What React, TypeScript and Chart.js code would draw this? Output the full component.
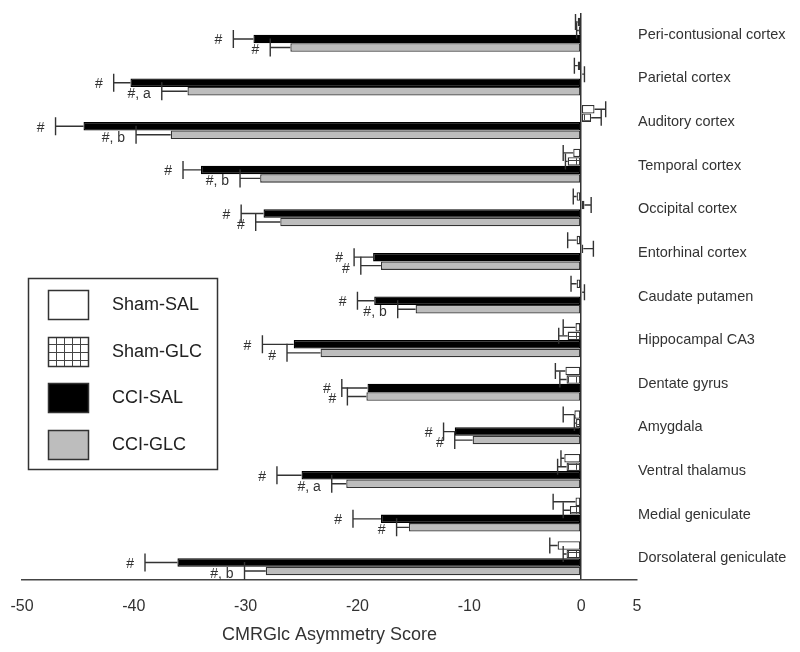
import React, { useEffect, useRef } from "react";
import { Chart, registerables } from "chart.js";
Chart.register(...registerables);

const regions = [
  "Peri-contusional cortex",
  "Parietal cortex",
  "Auditory cortex",
  "Temporal cortex",
  "Occipital cortex",
  "Entorhinal cortex",
  "Caudate putamen",
  "Hippocampal CA3",
  "Dentate gyrus",
  "Amygdala",
  "Ventral thalamus",
  "Medial geniculate",
  "Dorsolateral geniculate",
];
const seriesNames = ["Sham-SAL", "Sham-GLC", "CCI-SAL", "CCI-GLC"];

const shamSal = [-0.3, -0.3, 1.2, -0.7, -0.4, -0.4, -0.4, -0.5, -1.4, -0.6, -1.5, -0.5, -2.1];
const shamSalSem = [0.2, 0.3, 1.0, 0.9, 0.3, 0.8, 0.5, 1.1, 0.9, 1.0, 0.3, 2.0, 0.7];
const shamGlc = [-0.2, 0.1, 0.9, -1.2, 0.3, 0.2, 0.1, -1.2, -1.3, -0.45, -1.3, -1.0, -1.3];
const shamGlcSem = [0.2, 0.2, 0.9, 0.2, 0.6, 0.9, 0.2, 0.8, 0.6, 0.15, 0.8, 0.6, 0.3];
const cciSal = [-29.3, -40.3, -44.5, -34.0, -28.4, -18.6, -18.5, -25.7, -19.1, -11.3, -25.0, -17.9, -36.1];
const cciSalSem = [1.8, 1.5, 2.5, 1.6, 2.0, 1.7, 1.5, 2.8, 2.3, 1.0, 2.2, 2.5, 2.9];
const cciGlc = [-26.0, -35.2, -36.7, -28.7, -26.9, -17.9, -14.8, -23.3, -19.2, -9.7, -21.0, -15.4, -28.2];
const cciGlcSem = [1.8, 2.3, 3.1, 1.8, 2.2, 1.8, 1.6, 3.0, 1.7, 1.6, 1.3, 1.1, 1.9];

const shamSalMarks = ["", "", "", "", "", "", "", "", "", "", "", "", ""];
const shamGlcMarks = ["", "", "", "", "", "", "", "", "", "", "", "", ""];
const cciSalMarks = ["#", "#", "#", "#", "#", "#", "#", "#", "#", "#", "#", "#", "#"];
const cciGlcMarks = ["#", "#, a", "#, b", "#, b", "#", "#", "#, b", "#", "#", "#", "#, a", "#", "#, b"];

const xTicks = [-50, -40, -30, -20, -10, 0, 5];
const axisTitle = "CMRGlc Asymmetry Score";

const FONT = '"Liberation Sans", Arial, Helvetica, sans-serif';

export default function App() {
  const ref = useRef<HTMLCanvasElement>(null);

  useEffect(() => {
    document.body.style.margin = "0";
    const canvas = ref.current!;
    const ctx = canvas.getContext("2d")!;

    const pc = document.createElement("canvas");
    pc.width = 8;
    pc.height = 8;
    const p = pc.getContext("2d")!;
    p.fillStyle = "#ffffff";
    p.fillRect(0, 0, 8, 8);
    p.fillStyle = "#444444";
    p.fillRect(0, 0, 8, 1);
    p.fillRect(0, 0, 1, 8);
    const gridPattern = ctx.createPattern(pc, "repeat")!;

    const values = [shamSal, shamGlc, cciSal, cciGlc];
    const sems = [shamSalSem, shamGlcSem, cciSalSem, cciGlcSem];
    const marks = [shamSalMarks, shamGlcMarks, cciSalMarks, cciGlcMarks];
    const fills: any[] = ["#ffffff", gridPattern, "#000000", "#bdbdbd"];

    const errorPlugin = {
      id: "errorBars",
      afterDatasetsDraw(chart: any) {
        const c = chart.ctx;
        const xs = chart.scales.x;
        c.save();
        c.strokeStyle = "#333333";
        c.lineWidth = 1.4;
        values.forEach((vals, i) => {
          const meta = chart.getDatasetMeta(i);
          meta.data.forEach((bar: any, j: number) => {
            const v = vals[j];
            const e = sems[i][j];
            const end = v >= 0 ? v + e : v - e;
            const xe = xs.getPixelForValue(end);
            const y = bar.y;
            const half = i >= 2 ? 9 : 8;
            c.beginPath();
            c.moveTo(bar.x, y);
            c.lineTo(xe, y);
            c.moveTo(xe, y - half);
            c.lineTo(xe, y + half);
            c.stroke();
            const m = marks[i][j];
            if (m) {
              c.fillStyle = "#333333";
              c.font = "14px " + FONT;
              c.textAlign = "right";
              c.textBaseline = "middle";
              c.fillText(m, xe - 11, y + (i === 3 ? 3 : 1.5));
            }
          });
        });
        c.restore();
      },
    };

    const legendPlugin = {
      id: "boxLegend",
      afterDraw(chart: any) {
        const c = chart.ctx;
        c.save();
        c.strokeStyle = "#333333";
        c.lineWidth = 1.5;
        c.strokeRect(28.5, 278.5, 189, 191);
        const ys = [290, 337, 383, 430];
        seriesNames.forEach((name, i) => {
          c.fillStyle = fills[i];
          c.fillRect(48, ys[i], 41, 30);
          c.lineWidth = 1.5;
          c.strokeStyle = "#333333";
          c.strokeRect(48.5, ys[i] + 0.5, 40, 29);
          c.fillStyle = "#222222";
          c.font = "18px " + FONT;
          c.textAlign = "left";
          c.textBaseline = "middle";
          c.fillText(name, 112, ys[i] + 15);
        });
        c.restore();
      },
    };

    const chart = new Chart(canvas, {
      type: "bar",
      data: {
        labels: regions,
        datasets: seriesNames.map((name, i) => ({
          label: name,
          data: values[i],
          backgroundColor: fills[i],
          borderColor: i === 2 ? "#000000" : "#333333",
          borderWidth: 1.3,
          borderSkipped: false,
          categoryPercentage: 0.78,
          barPercentage: 1.0,
        })),
      },
      options: {
        indexAxis: "y",
        responsive: false,
        animation: false,
        devicePixelRatio: 1,
        layout: { padding: { top: 13, left: 22, right: 0, bottom: 0 } },
        plugins: {
          legend: { display: false },
          tooltip: { enabled: false },
        },
        scales: {
          x: {
            type: "linear",
            position: "bottom",
            min: -50,
            max: 5,
            afterBuildTicks: (s: any) => {
              s.ticks = xTicks.map((v) => ({ value: v }));
            },
            afterFit: (s: any) => {
              s.height = 72;
              s.paddingLeft = 0;
              s.paddingRight = 0;
            },
            grid: {
              drawTicks: false,
              color: (c: any) => (c.tick && c.tick.value === 0 ? "#333333" : "rgba(0,0,0,0)"),
              lineWidth: 1.5,
            },
            border: { display: true, color: "#444444", width: 1.5 },
            ticks: {
              padding: 17,
              color: "#333333",
              font: { family: FONT, size: 16 },
              callback: (v: any) => String(v),
            },
            title: {
              display: true,
              text: axisTitle,
              color: "#333333",
              font: { family: FONT, size: 18 },
              padding: { top: 0, bottom: 6 },
            },
          },
          y: {
            type: "category",
            position: "right",
            afterFit: (s: any) => {
              s.width = 163;
              s.paddingTop = 0;
              s.paddingBottom = 0;
            },
            grid: { display: false, drawTicks: false },
            border: { display: false },
            ticks: {
              padding: 1,
              color: "#333333",
              font: { family: FONT, size: 14.5 },
            },
          },
        },
      },
      plugins: [errorPlugin, legendPlugin],
    } as any);

    return () => chart.destroy();
  }, []);

  return (
    <div style={{ width: 800, height: 652 }}>
      <canvas ref={ref} width={800} height={652} style={{ display: "block" }} />
    </div>
  );
}
